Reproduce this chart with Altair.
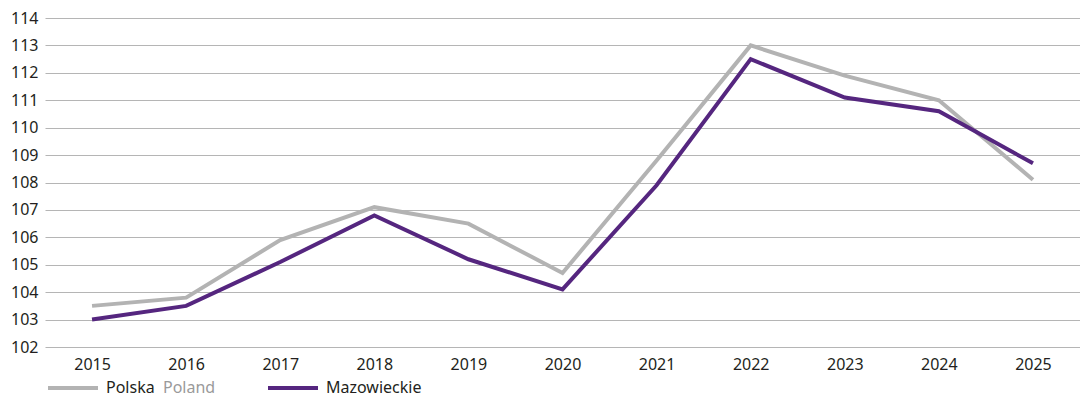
import altair as alt
import pandas as pd

years = ["2015", "2016", "2017", "2018", "2019", "2020", "2021", "2022", "2023", "2024", "2025"]
polska = [103.5, 103.8, 105.9, 107.1, 106.5, 104.7, 108.8, 113.0, 111.9, 111.0, 108.1]
mazowieckie = [103.0, 103.5, 105.1, 106.8, 105.2, 104.1, 107.9, 112.5, 111.1, 110.6, 108.7]
y_ticks = list(range(102, 115))

series_names = ["Polska", "Mazowieckie"]
series_colors = ["#b3b3b3", "#55267f"]

rows = []
for name, vals in zip(series_names, [polska, mazowieckie]):
    for yr, v in zip(years, vals):
        rows.append({"year": yr, "value": v, "series": name})
df = pd.DataFrame(rows)

FONT = "Noto Sans"
FS = 16
W, H = 1035, 329

lines = alt.Chart(df).mark_line(strokeWidth=4, strokeJoin="miter").encode(
    x=alt.X("year:O", sort=years, scale=alt.Scale(padding=0.5),
            axis=alt.Axis(title=None, labelAngle=0, ticks=False, domain=False,
                          labelPadding=9, labelFontSize=FS, labelColor="#231f20",
                          labelFont=FONT)),
    y=alt.Y("value:Q", scale=alt.Scale(domain=[102, 114], nice=False, zero=False),
            axis=alt.Axis(title=None, values=y_ticks, ticks=False, domain=False,
                          gridColor="#b5b5b5", gridWidth=1, labelPadding=7,
                          labelFontSize=FS, labelColor="#231f20", labelFont=FONT)),
    color=alt.Color("series:N", scale=alt.Scale(domain=series_names, range=series_colors),
                    legend=None),
    order=alt.Order("series:N"),
)

# legend built from the series arrays
leg_df = pd.DataFrame({"series": series_names, "color": series_colors})
leg_y = H + 41

sw1 = alt.Chart(leg_df.iloc[[0]]).mark_rule(strokeWidth=4, color=series_colors[0]).encode(
    x=alt.value(3), x2=alt.value(53), y=alt.value(leg_y))
sw2 = alt.Chart(leg_df.iloc[[1]]).mark_rule(strokeWidth=4, color=series_colors[1]).encode(
    x=alt.value(223), x2=alt.value(273), y=alt.value(leg_y))
t1 = alt.Chart(leg_df.iloc[[0]]).mark_text(align="left", baseline="middle", fontSize=FS,
                                           font=FONT, color="#231f20").encode(
    x=alt.value(61), y=alt.value(leg_y), text=alt.value("Polska"))
t1b = alt.Chart(leg_df.iloc[[0]]).mark_text(align="left", baseline="middle", fontSize=FS,
                                            font=FONT, color="#9a9a9a").encode(
    x=alt.value(118), y=alt.value(leg_y), text=alt.value("Poland"))
t2 = alt.Chart(leg_df.iloc[[1]]).mark_text(align="left", baseline="middle", fontSize=FS,
                                           font=FONT, color="#231f20").encode(
    x=alt.value(281), y=alt.value(leg_y), text=alt.value("Mazowieckie"))

chart = alt.layer(lines, sw1, sw2, t1, t1b, t2).properties(
    width=W, height=H,
    padding={"left": 2, "top": 2, "right": 0, "bottom": 4},
).configure_view(stroke=None)

chart.save("out.html", embed_options={"renderer": "svg", "actions": False})
